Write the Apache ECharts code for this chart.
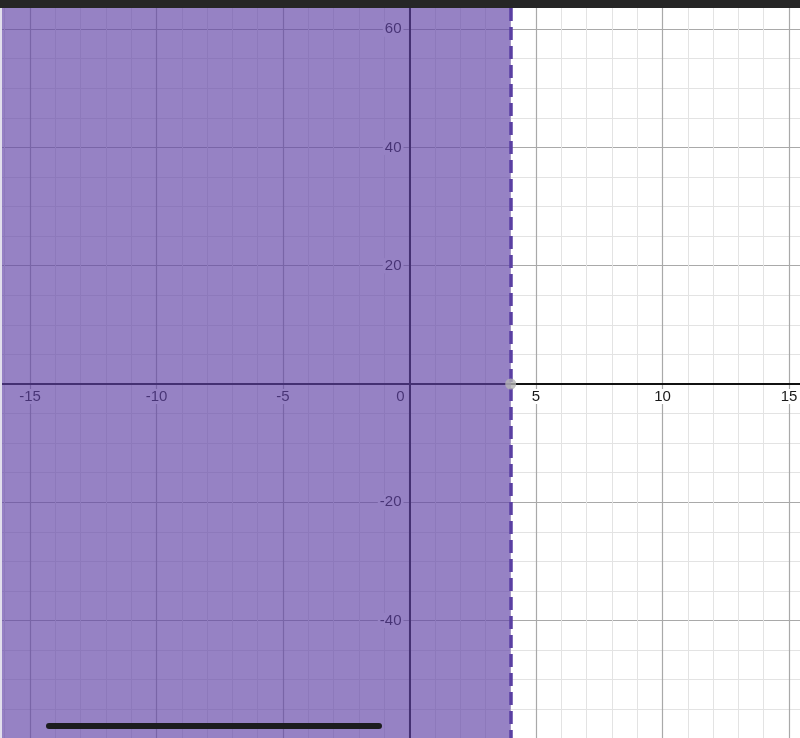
<!DOCTYPE html>
<html>
<head>
<meta charset="utf-8">
<script src="https://cdn.jsdelivr.net/npm/echarts@6/dist/echarts.min.js"></script>
<style>
html,body{margin:0;padding:0;background:#fff;overflow:hidden;width:800px;height:738px;}
#wrap{position:relative;width:800px;height:738px;overflow:hidden;}
#chart{position:absolute;left:-120px;top:-120px;width:1200px;height:1100px;}
</style>
</head>
<body>
<div id="wrap"><div id="chart"></div></div>
<script>
// Inequality x < 4 (shaded left of dashed boundary)
const boundaryX = [4];
const pointX = [4];
const pointY = [0];
const xRange = [-20, 20];
const yRange = [-80, 80];
const xMajorStep = 5;
const yMajorStep = 20;
const xTickLabels = [-15, -10, -5, 0, 5, 10, 15];
const yTickLabels = [-40, -20, 20, 40, 60];

const OFF = 120; // container offset
const chart = echarts.init(document.getElementById('chart'));
const labelFont = 'Liberation Sans, Arial, sans-serif';
const FS = 15;

const gridLeft = 23.5, gridTop = 30.9, gridW = 1012, gridH = 946.2;

const option = {
  animation: false,
  backgroundColor: '#ffffff',
  grid: { left: gridLeft, top: gridTop, width: gridW, height: gridH, outerBoundsMode: 'none', containLabel: false },
  xAxis: {
    type: 'value', min: xRange[0], max: xRange[1], interval: xMajorStep,
    position: 'bottom', offset: -gridH / 2,
    axisLine: { show: true, onZero: false, lineStyle: { color: '#111', width: 2 } },
    axisTick: { show: false },
    splitLine: { show: true, lineStyle: { color: '#a9a9a9', width: 1.2 } },
    minorTick: { show: false, splitNumber: 5 },
    minorSplitLine: { show: true, lineStyle: { color: '#e3e3e3', width: 1 } },
    axisLabel: {
      margin: 5, fontSize: FS, fontFamily: labelFont, color: '#1a1a1a',
      formatter: function (v) {
        if (xTickLabels.indexOf(v) < 0) return '';
        return v === 0 ? '{z|0}' : '{n|' + v + '}';
      },
      rich: {
        z: { fontSize: FS, fontFamily: labelFont, color: '#1a1a1a', padding: [0, 18, 0, 0] },
        n: { fontSize: FS, fontFamily: labelFont, color: '#1a1a1a', backgroundColor: '#fff', padding: [0, 2] }
      }
    }
  },
  yAxis: {
    type: 'value', min: yRange[0], max: yRange[1], interval: yMajorStep,
    position: 'left', offset: -gridW / 2,
    axisLine: { show: true, onZero: false, lineStyle: { color: '#111', width: 2 } },
    axisTick: { show: false },
    splitLine: { show: true, lineStyle: { color: '#a9a9a9', width: 1.2 } },
    minorTick: { show: false, splitNumber: 4 },
    minorSplitLine: { show: true, lineStyle: { color: '#e3e3e3', width: 1 } },
    axisLabel: {
      margin: 6, fontSize: FS, fontFamily: labelFont, color: '#1a1a1a',
      formatter: function (v) {
        return yTickLabels.indexOf(v) < 0 ? '' : '{n|' + v + '}';
      },
      rich: {
        n: { fontSize: FS, fontFamily: labelFont, color: '#1a1a1a', backgroundColor: '#fff', padding: [0, 2] }
      }
    }
  },
  series: [
    {
      type: 'line', data: [], z: 3, silent: true,
      markArea: {
        silent: true,
        itemStyle: { color: 'rgba(96,66,166,0.66)' },
        data: [[{ xAxis: 'min' }, { xAxis: boundaryX[0] }]]
      },
      markLine: {
        silent: true, symbol: ['none', 'none'], label: { show: false },
        lineStyle: { color: '#5a3fa2', width: 3.5, type: [13, 6] },
        data: [{ xAxis: boundaryX[0] }]
      }
    },
    {
      type: 'scatter', z: 6, silent: true,
      symbolSize: 11,
      itemStyle: { color: '#b3b3b3' },
      data: pointX.map((x, i) => [x, pointY[i]])
    }
  ],
  graphic: [
    { type: 'rect', z: 100, shape: { x: OFF, y: OFF, width: 800, height: 8 }, style: { fill: '#262626' } },
    { type: 'rect', z: 100, shape: { x: OFF, y: OFF + 8, width: 2, height: 730 }, style: { fill: '#e2dfec' } },
    { type: 'rect', z: 100, shape: { x: OFF + 46, y: OFF + 723, width: 336, height: 6, r: 3 }, style: { fill: '#1c1c1e' } }
  ]
};
chart.setOption(option);
</script>
</body>
</html>
